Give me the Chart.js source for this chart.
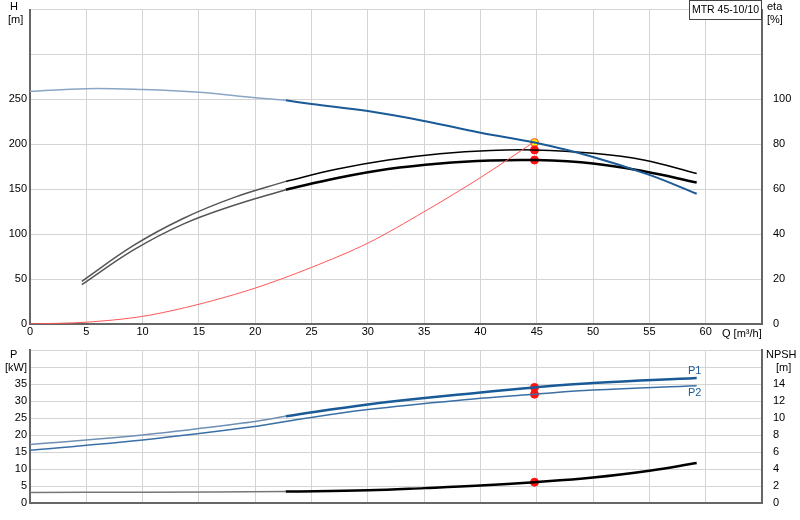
<!DOCTYPE html>
<html><head><meta charset="utf-8">
<script src="https://cdn.jsdelivr.net/npm/chart.js@4.4.0/dist/chart.umd.min.js"></script>
<style>body{margin:0;background:#fff;width:800px;height:520px;overflow:hidden;font-family:"Liberation Sans",Arial,sans-serif}
#a{position:absolute;left:0;top:0}#b{position:absolute;left:0;top:340px}</style></head>
<body><div id="a" style="width:800px;height:340px"><canvas id="c1"></canvas></div>
<div id="b" style="width:800px;height:180px"><canvas id="c2"></canvas></div>
<script>
const qTicks=[0,5,10,15,20,25,30,35,40,45,50,55,60];
const headQ=[0,5,10,15,20,22.7,25,30,35,40,44.8,50,55,59.2];
const headH=[259,262,261,258,252,249,245,237,226,213,202,186,166,145];
const etaQ=[4.6,9.2,13.6,18.2,22.7,27.3,31.8,36.4,40.9,44.8,50,54.5,59.2];
const etaUpper=[19,35,47,56.5,63.5,69,73,75.8,77.3,77.5,76,73,67];
const etaLower=[17.5,33,44.5,53,59.8,65,69,71.5,72.8,73,71.5,68,63];
const sysQ=[0,5,10,15,20,25,30,35,40,44.8];
const sysH=[0,2,8.5,22,40,63,90,125,163,203];
const dutyQ=44.8, dutyH=202, dutyEtaU=77.5, dutyEtaL=73;
const pQ=[0,10,20,22.7,30,40,44.8,50,59.2];
const p1=[17.2,20,24,25.5,29,32.5,34,35.3,36.8];
const p2=[15.5,18.5,22.5,24,27.5,30.8,32,33.2,34.5];
const nQ=[0,10,22.7,30,35,40,44.8,50,55,59.2];
const npsh=[1.25,1.27,1.35,1.5,1.75,2.05,2.45,3.0,3.8,4.7];
const dutyP1=34, dutyP2=32, dutyNpsh=2.45;

const xy=(xs,ys,f)=>xs.map((x,i)=>({x,y:ys[i]})).filter(p=>!f||f(p.x));
const FONT={family:'"Liberation Sans",Arial,sans-serif',size:11};
const GRID='#d4d4d4';
function line(data,color,w,axis,extra){return Object.assign({data,borderColor:color,borderWidth:w,pointRadius:0,tension:0.4,yAxisID:axis,fill:false},extra||{});}
function pt(x,y,axis,color){return {data:[{x,y}],yAxisID:axis,showLine:false,pointRadius:4,pointBackgroundColor:color,pointBorderColor:color==='#ffee00'?'#ff4444':color,pointBorderWidth:1};}
const xScale=(showLabels)=>({type:'linear',min:0,max:65,afterBuildTicks:s=>{s.ticks=qTicks.concat([65]).map(v=>({value:v}));},
  ticks:{display:showLabels,color:'#000',font:FONT,maxRotation:0,padding:1,callback:v=>v>60?'':v},
  grid:{color:GRID,drawTicks:false},border:{color:'#666',width:2},
  afterFit:s=>{s.height=showLabels?16:17;}});
const txt={id:'txt',afterDraw(c,a,o){const x=c.ctx;x.save();x.font='11px "Liberation Sans",Arial';x.fillStyle='#000';(o.items||[]).forEach(t=>{x.fillStyle=t.c||'#000';x.textAlign=t.a||'left';x.fillText(t.s,t.x,t.y);});
 if(o.box){x.fillStyle='#fff';x.fillRect(689.5,0.5,72,19);x.strokeStyle='#444';x.lineWidth=1;x.strokeRect(689.5,0.5,72,19);x.fillStyle='#000';x.font='10.5px "Liberation Sans",Arial';x.textAlign='center';x.fillText('MTR 45-10/10',725.5,13);}x.restore();}};
new Chart(document.getElementById('c1'),{type:'line',plugins:[txt],data:{datasets:[
 line(xy(headQ,headH,x=>x<=22.7),'#8aa6c4',1.5,'y'),
 line(xy(headQ,headH,x=>x>=22.7),'#1a5a96',2,'y'),
 line(xy(sysQ,sysH),'#ff5555',1,'y',{tension:0.3}),
 line(xy(etaQ,etaUpper,x=>x<=22.7),'#555',1.5,'e'),
 line(xy(etaQ,etaUpper,x=>x>=22.7),'#000',1.5,'e'),
 line(xy(etaQ,etaLower,x=>x<=22.7),'#555',1.5,'e'),
 line(xy(etaQ,etaLower,x=>x>=22.7),'#000',2.5,'e'),
 pt(dutyQ,dutyEtaU,'e','#ff1111'),pt(dutyQ,dutyEtaL,'e','#ff1111'),pt(dutyQ,dutyH,'y','#ffee00')
]},options:{animation:false,responsive:true,maintainAspectRatio:false,layout:{autoPadding:false,padding:{top:1}},
 plugins:{legend:{display:false},tooltip:{enabled:false},txt:{box:true,items:[{s:'H',x:10,y:10},{s:'[m]',x:8,y:23},{s:'eta',x:767,y:10},{s:'[%]',x:767,y:23},{s:'Q [m³/h]',x:722,y:337}]}},
 scales:{x:xScale(true),
 y:{position:'left',min:0,max:350,ticks:{stepSize:50,color:'#000',font:FONT,padding:3,callback:v=>v>250?'':v},grid:{color:GRID,drawTicks:false},border:{color:'#666',width:2},afterFit:s=>{s.width=30;}},
 e:{position:'right',min:0,max:140,ticks:{stepSize:20,color:'#000',font:FONT,padding:3,callback:v=>v>100?'':v},grid:{display:false},border:{color:'#666',width:2},afterFit:s=>{s.width=38;}}}}});
new Chart(document.getElementById('c2'),{type:'line',plugins:[txt],data:{datasets:[
 line(xy(pQ,p1,x=>x<=22.7),'#6f8fb3',1.5,'y'),
 line(xy(pQ,p1,x=>x>=22.7),'#1a5a96',2.5,'y'),
 line(xy(pQ,p2),'#3a6fa5',1.5,'y'),
 line(xy(nQ,npsh,x=>x<=22.7),'#777',1.5,'n'),
 line(xy(nQ,npsh,x=>x>=22.7),'#000',2.5,'n'),
 pt(dutyQ,dutyP1,'y','#ff1111'),pt(dutyQ,dutyP2,'y','#ff1111'),pt(dutyQ,dutyNpsh,'n','#ff1111')
]},options:{animation:false,responsive:true,maintainAspectRatio:false,layout:{autoPadding:false,padding:{top:10}},
 plugins:{legend:{display:false},tooltip:{enabled:false},txt:{items:[{s:'P',x:10,y:18},{s:'[kW]',x:5,y:31},{s:'NPSH',x:766,y:18},{s:'[m]',x:776,y:31},{s:'P1',x:688,y:34,c:'#1a5a96'},{s:'P2',x:688,y:56,c:'#1a5a96'}]}},
 scales:{x:xScale(false),
 y:{position:'left',min:0,max:45,ticks:{stepSize:5,color:'#000',font:FONT,padding:3,callback:v=>v>35?'':v},grid:{color:GRID,drawTicks:false},border:{color:'#666',width:2},afterFit:s=>{s.width=30;}},
 n:{position:'right',min:0,max:18,ticks:{stepSize:2,color:'#000',font:FONT,padding:3,callback:v=>v>14?'':v},grid:{display:false},border:{color:'#666',width:2},afterFit:s=>{s.width=38;}}}}});
</script></body></html>
